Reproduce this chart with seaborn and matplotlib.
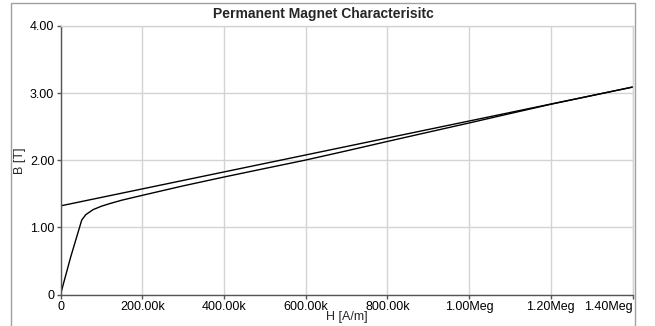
import numpy as np
import pandas as pd
import matplotlib
matplotlib.use("Agg")
import matplotlib.pyplot as plt
import seaborn as sns
from matplotlib.patches import Rectangle

# Data
h_upper = [0, 1400000]
b_upper = [1.32, 3.09]

h_lower = [0, 25000, 52000, 62000, 80000, 100000, 121000, 150000, 200000, 300000,
           400000, 500000, 600000, 700000, 800000, 900000, 1000000,
           1100000, 1200000, 1300000, 1400000]
b_lower = [0.0, 0.56, 1.11, 1.19, 1.265, 1.315, 1.355, 1.405, 1.477, 1.618,
           1.75, 1.877, 2.003, 2.14, 2.28, 2.418, 2.555,
           2.695, 2.834, 2.962, 3.09]

x_ticks = [0, 200000, 400000, 600000, 800000, 1000000, 1200000, 1400000]
x_labels = ["0", "200.00k", "400.00k", "600.00k", "800.00k", "1.00Meg", "1.20Meg", "1.40Meg"]
y_ticks = [0, 1, 2, 3, 4]
y_labels = ["0", "1.00", "2.00", "3.00", "4.00"]

sns.set_style("white")
plt.rcParams['font.family'] = ['Liberation Sans', 'DejaVu Sans']

W, H = 655, 326
fig = plt.figure(figsize=(W / 100, H / 100), dpi=100)
ax = fig.add_axes([60.5 / W, 31.5 / H, (632.5 - 60.5) / W, (300 - 31.5) / H])

df_u = pd.DataFrame({"H": h_upper, "B": b_upper})
df_l = pd.DataFrame({"H": h_lower, "B": b_lower})
sns.lineplot(data=df_u, x="H", y="B", ax=ax, color="black", linewidth=1.0, sort=False)
sns.lineplot(data=df_l, x="H", y="B", ax=ax, color="black", linewidth=1.0, sort=False)

ax.set_xlim(0, 1400000)
ax.set_ylim(0, 4)
ax.set_xticks(x_ticks)
ax.set_xticklabels(x_labels, fontsize=9)
ax.set_yticks(y_ticks)
ax.set_yticklabels(y_labels, fontsize=9)
ax.get_xticklabels()[-1].set_horizontalalignment("right")
ax.grid(True, color="#d4d4d4", linewidth=1.0)
ax.set_axisbelow(True)

for s in ["left", "bottom"]:
    ax.spines[s].set_color("#555555")
    ax.spines[s].set_linewidth(1.0)
for s in ["top", "right"]:
    ax.spines[s].set_color("#d4d4d4")
    ax.spines[s].set_linewidth(1.0)

ax.tick_params(axis="both", direction="out", length=3, width=1, color="#555555",
               pad=1.5, labelcolor="black")
ax.tick_params(left=True, bottom=True)

ax.set_xlabel("H [A/m]", fontsize=9, labelpad=-1)
ax.set_ylabel("B [T]", fontsize=9, labelpad=3)

fig.text(323 / W, 1 - 14 / H, "Permanent Magnet Characterisitc", ha="center", va="center",
         fontsize=10, fontweight="bold")

fig.patches.append(Rectangle((11 / W, -0.1), (635 - 11) / W, 1.1 - 3 / H,
                             transform=fig.transFigure, fill=False,
                             edgecolor="#a0a0a0", linewidth=1.0))

fig.savefig("out.png", dpi=100)
